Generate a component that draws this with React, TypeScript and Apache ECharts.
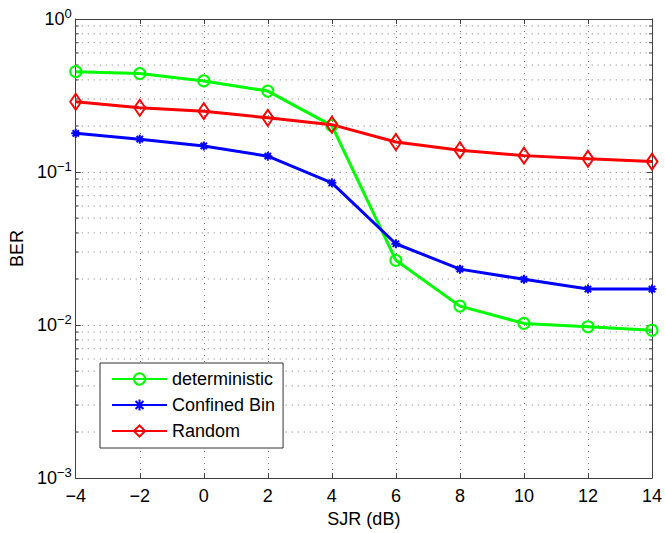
import React, { useEffect, useRef } from "react";
import * as echarts from "echarts";

// SJR sweep (dB)
const sjr = [-4, -2, 0, 2, 4, 6, 8, 10, 12, 14];

// Bit error rate per hopping scheme
const deterministic = [0.453, 0.44, 0.394, 0.338, 0.201, 0.0265, 0.0133, 0.01025, 0.00975, 0.00925];
const confinedBin = [0.179, 0.164, 0.148, 0.127, 0.085, 0.034, 0.0232, 0.0199, 0.0172, 0.0172];
const random = [0.288, 0.263, 0.25, 0.226, 0.204, 0.157, 0.139, 0.128, 0.122, 0.117];

const xMin = -4;
const xMax = 14;
const xStep = 2;
const yMin = 0.001;
const yMax = 1;

// Minor log grid values (2..9 in each decade)
const minorValues: number[] = [];
for (const dec of [0.001, 0.01, 0.1]) {
  for (let k = 2; k <= 9; k++) minorValues.push(+(k * dec).toPrecision(3));
}

const FONT = "Liberation Sans, Arial, Helvetica, sans-serif";
const GRID_COLOR = "#7a7a7a";
const AXIS_COLOR = "#404040";

const asterisk = "path://M0,5 L10,5 M5,0 L5,10 M1.5,1.5 L8.5,8.5 M8.5,1.5 L1.5,8.5";

function fmtX(v: number) {
  return v < 0 ? "\u2212" + Math.abs(v) : String(v);
}

function fmtY(v: number) {
  const e = Math.round(Math.log10(v));
  const s = e < 0 ? "\u2212" + Math.abs(e) : String(e);
  return "{b|10}{s|" + s + "}";
}

export default function App() {
  const ref = useRef<HTMLDivElement>(null);

  useEffect(() => {
    if (!ref.current) return;
    const chart = echarts.init(ref.current, undefined, { renderer: "svg" });

    const lineSeries = (
      name: string,
      values: number[],
      color: string,
      symbol: string,
      symbolSize: number | number[]
    ) => ({
      name,
      type: "line",
      data: sjr.map((x, i) => [x, values[i]]),
      symbol,
      symbolSize,
      showAllSymbol: true,
      lineStyle: { color, width: 3 },
      itemStyle: { color: "none", borderColor: color, borderWidth: 2 },
      emphasis: { disabled: true },
      z: 5,
    });

    const axisLine = { show: true, onZero: false, lineStyle: { color: AXIS_COLOR, width: 1 } };
    const axisTick = { show: true, inside: true, length: 5, lineStyle: { color: AXIS_COLOR } };

    chart.setOption({
      animation: false,
      textStyle: { fontFamily: FONT },
      grid: { left: 63, right: 11, top: 19, bottom: 49, containLabel: false },
      legend: {
        data: ["deterministic", "Confined Bin", "Random"],
        orient: "vertical",
        left: 100,
        top: 363,
        backgroundColor: "#ffffff",
        borderColor: "#333333",
        borderWidth: 1,
        borderRadius: 0,
        padding: [7, 8, 8, 11],
        itemWidth: 55,
        itemHeight: 14,
        itemGap: 8,
        selectedMode: false,
        textStyle: { fontSize: 18, color: "#000", fontFamily: FONT },
      },
      xAxis: [
        {
          type: "value",
          min: xMin,
          max: xMax,
          interval: xStep,
          position: "bottom",
          name: "SJR (dB)",
          nameLocation: "middle",
          nameGap: 31,
          nameTextStyle: { fontSize: 18, color: "#000", fontFamily: FONT },
          axisLine,
          axisTick,
          axisLabel: { fontSize: 18, color: "#000", margin: 9, formatter: fmtX, fontFamily: FONT },
          splitLine: { show: true, lineStyle: { color: GRID_COLOR, type: [1, 5], width: 1 } },
        },
        {
          type: "value",
          min: xMin,
          max: xMax,
          interval: xStep,
          position: "top",
          axisLine,
          axisTick,
          axisLabel: { show: false },
          splitLine: { show: false },
        },
      ],
      yAxis: [
        {
          type: "log",
          logBase: 10,
          min: yMin,
          max: yMax,
          position: "left",
          name: "BER",
          nameLocation: "middle",
          nameGap: 45,
          nameRotate: 90,
          nameTextStyle: { fontSize: 18, color: "#000", fontFamily: FONT },
          axisLine,
          axisTick,
          axisLabel: {
            margin: 4,
            formatter: fmtY,
            rich: {
              b: { fontSize: 18, color: "#000", fontFamily: FONT },
              s: { fontSize: 13, color: "#000", fontFamily: FONT, padding: [0, 0, 12, 0] },
            },
          },
          splitLine: { show: true, lineStyle: { color: GRID_COLOR, type: [1, 5], width: 1 } },
        },
        {
          type: "log",
          logBase: 10,
          min: yMin,
          max: yMax,
          position: "right",
          axisLine,
          axisTick,
          axisLabel: { show: false },
          splitLine: { show: false },
        },
      ],
      series: [
        {
          name: "minorGrid",
          type: "custom",
          silent: true,
          z: 1,
          data: minorValues.map((v) => [xMin, v]),
          renderItem: (params: any, api: any) => {
            const v = api.value(1);
            const p0 = api.coord([xMin, v]);
            const p1 = api.coord([xMax, v]);
            const tick = { stroke: AXIS_COLOR, lineWidth: 1 };
            return {
              type: "group",
              children: [
                {
                  type: "line",
                  shape: { x1: p0[0], y1: p0[1], x2: p1[0], y2: p1[1] },
                  style: { stroke: GRID_COLOR, lineWidth: 1, lineDash: [1, 5] },
                },
                {
                  type: "line",
                  shape: { x1: p0[0], y1: p0[1], x2: p0[0] + 3, y2: p0[1] },
                  style: tick,
                },
                {
                  type: "line",
                  shape: { x1: p1[0] - 3, y1: p1[1], x2: p1[0], y2: p1[1] },
                  style: tick,
                },
              ],
            };
          },
        },
        lineSeries("deterministic", deterministic, "#00ff00", "circle", 11),
        lineSeries("Confined Bin", confinedBin, "#0000ff", asterisk, 9),
        lineSeries("Random", random, "#ff0000", "diamond", [11, 16]),
      ],
    });

    return () => chart.dispose();
  }, []);

  return (
    <div
      ref={ref}
      style={{ position: "fixed", left: 0, top: 0, width: 665, height: 533, background: "#fff" }}
    />
  );
}
